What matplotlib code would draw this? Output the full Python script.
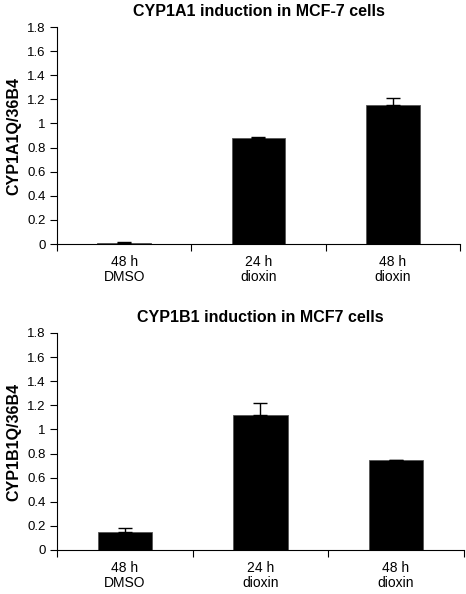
import matplotlib
matplotlib.use("Agg")
import matplotlib.pyplot as plt
import numpy as np

plt.rcParams['font.family'] = ['Liberation Sans', 'DejaVu Sans']

categories = ["48 h\nDMSO", "24 h\ndioxin", "48 h\ndioxin"]
cyp1a1_values = [0.01, 0.88, 1.15]
cyp1a1_errors = [0.01, 0.01, 0.06]
cyp1b1_values = [0.15, 1.12, 0.75]
cyp1b1_errors = [0.03, 0.10, 0.0]
yticks = [0, 0.2, 0.4, 0.6, 0.8, 1, 1.2, 1.4, 1.6, 1.8]
ytick_labels = ["0", "0.2", "0.4", "0.6", "0.8", "1", "1.2", "1.4", "1.6", "1.8"]

fig = plt.figure(figsize=(4.66, 5.94), dpi=100)
ax1 = fig.add_axes([0.1223, 0.5892, 0.8647, 0.3653])
ax2 = fig.add_axes([0.1223, 0.0741, 0.8730, 0.3653])

def draw(ax, vals, errs, title, ylabel):
    x = np.arange(len(categories))
    ax.bar(x, vals, width=0.4, color='black', edgecolor='#555555', linewidth=0.6, zorder=2)
    ax.errorbar(x, vals, yerr=[np.zeros(len(errs)), errs], fmt='none', ecolor='black',
                elinewidth=1.0, capsize=5, capthick=1.0, zorder=3)
    ax.set_xlim(-0.5, len(categories) - 0.5)
    ax.set_ylim(0, 1.8)
    ax.set_yticks(yticks)
    ax.set_yticklabels(ytick_labels, fontsize=9.5)
    ax.set_xticks(x)
    ax.set_xticklabels(categories, fontsize=10, linespacing=1.1)
    ax.tick_params(axis='x', length=0, pad=8)
    ax.set_xticks(np.arange(len(categories) + 1) - 0.5, minor=True)
    ax.tick_params(axis='x', which='minor', length=5, width=0.8, direction='out')
    ax.tick_params(axis='y', length=5, width=0.8, direction='out', pad=3)
    for s in ['top', 'right']:
        ax.spines[s].set_visible(False)
    for s in ['left', 'bottom']:
        ax.spines[s].set_linewidth(0.8)
    ax.set_title(title, fontsize=11.5, fontweight='bold', pad=8)
    ax.set_ylabel(ylabel, fontsize=11.5, fontweight='bold', labelpad=4)

draw(ax1, cyp1a1_values, cyp1a1_errors, "CYP1A1 induction in MCF-7 cells", "CYP1A1Q/36B4")
draw(ax2, cyp1b1_values, cyp1b1_errors, "CYP1B1 induction in MCF7 cells", "CYP1B1Q/36B4")

fig.savefig("out.png", dpi=100)
